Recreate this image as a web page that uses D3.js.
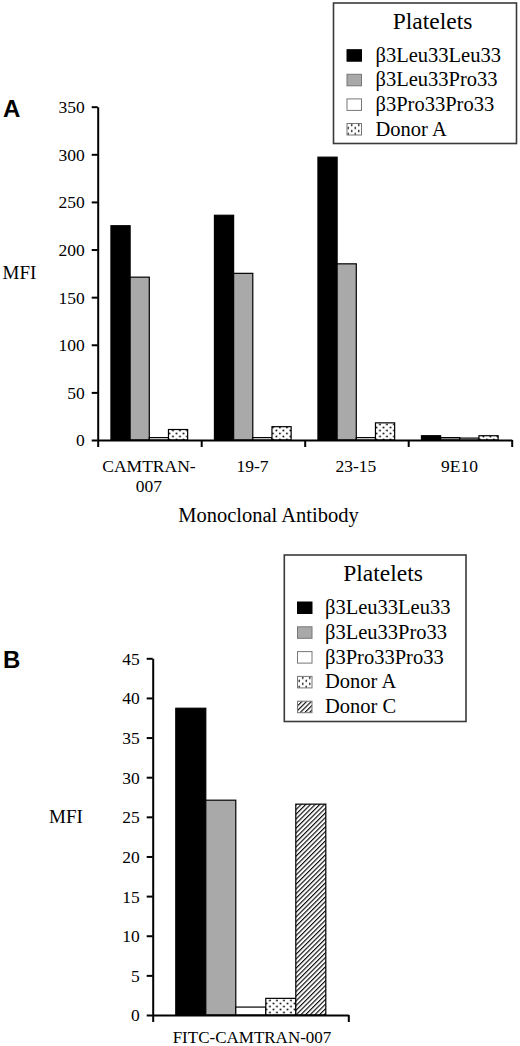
<!DOCTYPE html>
<html>
<head>
<meta charset="utf-8">
<script src="https://cdn.jsdelivr.net/npm/d3@7"></script>
<style>
  html, body { margin: 0; padding: 0; background: #fff; }
  svg { display: block; }
</style>
</head>
<body>
<svg id="chart" width="520" height="1046"></svg>
<script>
// ---------- Data ----------
const categoriesA = ["CAMTRAN-007", "19-7", "23-15", "9E10"];
const categoryLinesA = [["CAMTRAN-", "007"], ["19-7"], ["23-15"], ["9E10"]];
const seriesA = ["β3Leu33Leu33", "β3Leu33Pro33", "β3Pro33Pro33", "Donor A"];
const leuLeuA = [225, 236, 297, 4.5];
const leuProA = [171, 175, 185, 2.5];
const proProA = [2.5, 2.5, 2.5, 2];
const donorA_A = [11, 14, 18, 4.5];
const ticksA = [0, 50, 100, 150, 200, 250, 300, 350];

const categoriesB = ["FITC-CAMTRAN-007"];
const seriesB = ["β3Leu33Leu33", "β3Leu33Pro33", "β3Pro33Pro33", "Donor A", "Donor C"];
const leuLeuB = [38.7];
const leuProB = [27.1];
const proProB = [1.0];
const donorA_B = [2.1];
const donorC_B = [26.6];
const ticksB = [0, 5, 10, 15, 20, 25, 30, 35, 40, 45];

const legendTitle = "Platelets";
const yTitle = "MFI";
const xTitleA = "Monoclonal Antibody";

// ---------- Styles ----------
const SERIF = "'Liberation Serif', 'Times New Roman', Times, 'DejaVu Serif', serif";
const SANS = "'Liberation Sans', Arial, Helvetica, sans-serif";
const fills = {
  "β3Leu33Leu33": "#000000",
  "β3Leu33Pro33": "#a9a9a9",
  "β3Pro33Pro33": "#ffffff",
  "Donor A": "url(#dots)",
  "Donor C": "url(#hatch)"
};

const svg = d3.select("#chart");
const defs = svg.append("defs");

const dots = defs.append("pattern").attr("id", "dots")
  .attr("patternUnits", "userSpaceOnUse").attr("width", 7).attr("height", 6);
dots.append("rect").attr("width", 7).attr("height", 6).attr("fill", "#fff");
dots.append("circle").attr("cx", 1.75).attr("cy", 1.5).attr("r", 0.9).attr("fill", "#000");
dots.append("circle").attr("cx", 5.25).attr("cy", 4.5).attr("r", 0.9).attr("fill", "#000");

const hatch = defs.append("pattern").attr("id", "hatch")
  .attr("patternUnits", "userSpaceOnUse").attr("width", 3.3).attr("height", 3.3)
  .attr("patternTransform", "rotate(45)");
hatch.append("rect").attr("width", 3.3).attr("height", 3.3).attr("fill", "#fff");
hatch.append("line").attr("x1", 0.6).attr("y1", 0).attr("x2", 0.6).attr("y2", 3.3)
  .attr("stroke", "#000").attr("stroke-width", 1.1);

function serifText(sel, size) {
  return sel.attr("font-family", SERIF).attr("font-size", size).attr("fill", "#000");
}

// ---------- Helper to draw a panel ----------
function drawPanel(opts) {
  const { categories, series, values, ticks, yDomain, yRange, xRange,
          groupInner, tickFont, fillMap } = opts;

  const x0 = d3.scaleBand().domain(categories).range(xRange).padding(0);
  const x1 = d3.scaleBand().domain(series)
    .range([x0.bandwidth() * groupInner[0], x0.bandwidth() * groupInner[1]]).padding(0);
  const y = d3.scaleLinear().domain(yDomain).range(yRange);

  const g = svg.append("g");

  const groups = g.selectAll("g.grp").data(categories).join("g")
    .attr("transform", d => `translate(${x0(d)},0)`);
  groups.selectAll("rect").data((c, i) => series.map((s, k) => ({ s, v: values[k][i] })))
    .join("rect")
    .attr("x", d => x1(d.s))
    .attr("y", d => y(d.v))
    .attr("width", x1.bandwidth())
    .attr("height", d => y(0) - y(d.v))
    .attr("fill", d => fillMap[d.s])
    .attr("stroke", "#000")
    .attr("stroke-width", 1.2);

  const yAxis = g.append("g").attr("transform", `translate(${xRange[0]},0)`)
    .call(d3.axisLeft(y).tickValues(ticks).tickSize(6).tickSizeOuter(0).tickPadding(7));
  yAxis.attr("font-family", SERIF).attr("font-size", tickFont);
  yAxis.select(".domain").attr("stroke", "#000").attr("stroke-width", 2);
  yAxis.selectAll(".tick line").attr("stroke", "#000").attr("stroke-width", 2);
  yAxis.selectAll(".tick text").attr("fill", "#000").attr("dy", "0.34em");

  const xb = d3.scaleLinear().domain([0, categories.length]).range(xRange);
  const xAxis = g.append("g").attr("transform", `translate(0,${yRange[0]})`)
    .call(d3.axisBottom(xb).tickValues(d3.range(categories.length + 1))
      .tickFormat("").tickSize(7).tickSizeOuter(0));
  xAxis.select(".domain").attr("stroke", "#000").attr("stroke-width", 2);
  xAxis.selectAll(".tick line").attr("stroke", "#000").attr("stroke-width", 2);

  return { x0, y, g };
}

function drawLegend(opts) {
  const { series, box, titleY, firstBaseline, step, swatchX, textX, titleX } = opts;
  const g = svg.append("g");
  g.append("rect").attr("x", box[0]).attr("y", box[1]).attr("width", box[2]).attr("height", box[3])
    .attr("fill", "#fff").attr("stroke", "#3a3a3a").attr("stroke-width", 1.6);
  serifText(g.append("text"), 23.5).attr("x", titleX).attr("y", titleY).attr("text-anchor", "middle")
    .text(legendTitle);
  const items = g.selectAll("g.item").data(series).join("g")
    .attr("transform", (d, i) => `translate(0,${firstBaseline + i * step})`);
  items.append("rect").attr("x", swatchX).attr("y", -12).attr("width", 14.5).attr("height", 11.5)
    .attr("fill", d => fills[d])
    .attr("stroke", d => d === "β3Leu33Leu33" ? "#000" : "#777")
    .attr("stroke-width", 1);
  serifText(items.append("text"), 20.5).attr("x", textX).attr("y", 0).text(d => d);
}

// ---------- Panel A ----------
const A = drawPanel({
  categories: categoriesA,
  series: seriesA,
  values: [leuLeuA, leuProA, proProA, donorA_A],
  ticks: ticksA,
  yDomain: [0, 350],
  yRange: [440, 106.7],
  xRange: [97.7, 511.7],
  groupInner: [0.128, 0.869],
  tickFont: 17.5,
  fillMap: fills
});

const catLabels = serifText(svg.append("g").selectAll("text").data(categoriesA).join("text"), 17.5)
  .attr("text-anchor", "middle")
  .attr("transform", d => `translate(${A.x0(d) + A.x0.bandwidth() / 2 - 0.5},471.5)`);
catLabels.each(function (d, i) {
  const t = d3.select(this);
  categoryLinesA[i].forEach((line, j) => {
    t.append("tspan").attr("x", 0).attr("y", j * 20).text(line);
  });
});

serifText(svg.append("text"), 20.5).attr("x", 268.5).attr("y", 521.5).attr("text-anchor", "middle")
  .text(xTitleA);
serifText(svg.append("text"), 19).attr("x", 2.5).attr("y", 279).text(yTitle);
svg.append("text").attr("x", 3).attr("y", 116.7)
  .attr("font-family", SANS).attr("font-weight", "bold")
  .attr("font-size", 24).text("A");

drawLegend({
  series: seriesA,
  box: [333.5, 3, 183, 140.5],
  titleX: 432.5, titleY: 28.5,
  firstBaseline: 61.7, step: 24.6,
  swatchX: 347, textX: 375.5
});

// ---------- Panel B ----------
const B = drawPanel({
  categories: categoriesB,
  series: seriesB,
  values: [leuLeuB, leuProB, proProB, donorA_B, donorC_B],
  ticks: ticksB,
  yDomain: [0, 45],
  yRange: [1015, 658.3],
  xRange: [152.7, 348.3],
  groupInner: [0.118, 0.885],
  tickFont: 17.5,
  fillMap: fills
});

serifText(svg.append("g").selectAll("text").data(categoriesB).join("text"), 17)
  .attr("x", d => B.x0(d) + B.x0.bandwidth() / 2 + 1.5)
  .attr("y", 1043)
  .attr("text-anchor", "middle")
  .text(d => d);

serifText(svg.append("text"), 19).attr("x", 49).attr("y", 822.5).text(yTitle);
svg.append("text").attr("x", 3).attr("y", 668.3)
  .attr("font-family", SANS).attr("font-weight", "bold")
  .attr("font-size", 24).text("B");

drawLegend({
  series: seriesB,
  box: [284.3, 555, 181.7, 166.5],
  titleX: 383, titleY: 580.7,
  firstBaseline: 614, step: 24.8,
  swatchX: 297.5, textX: 325
});
</script>
</body>
</html>
